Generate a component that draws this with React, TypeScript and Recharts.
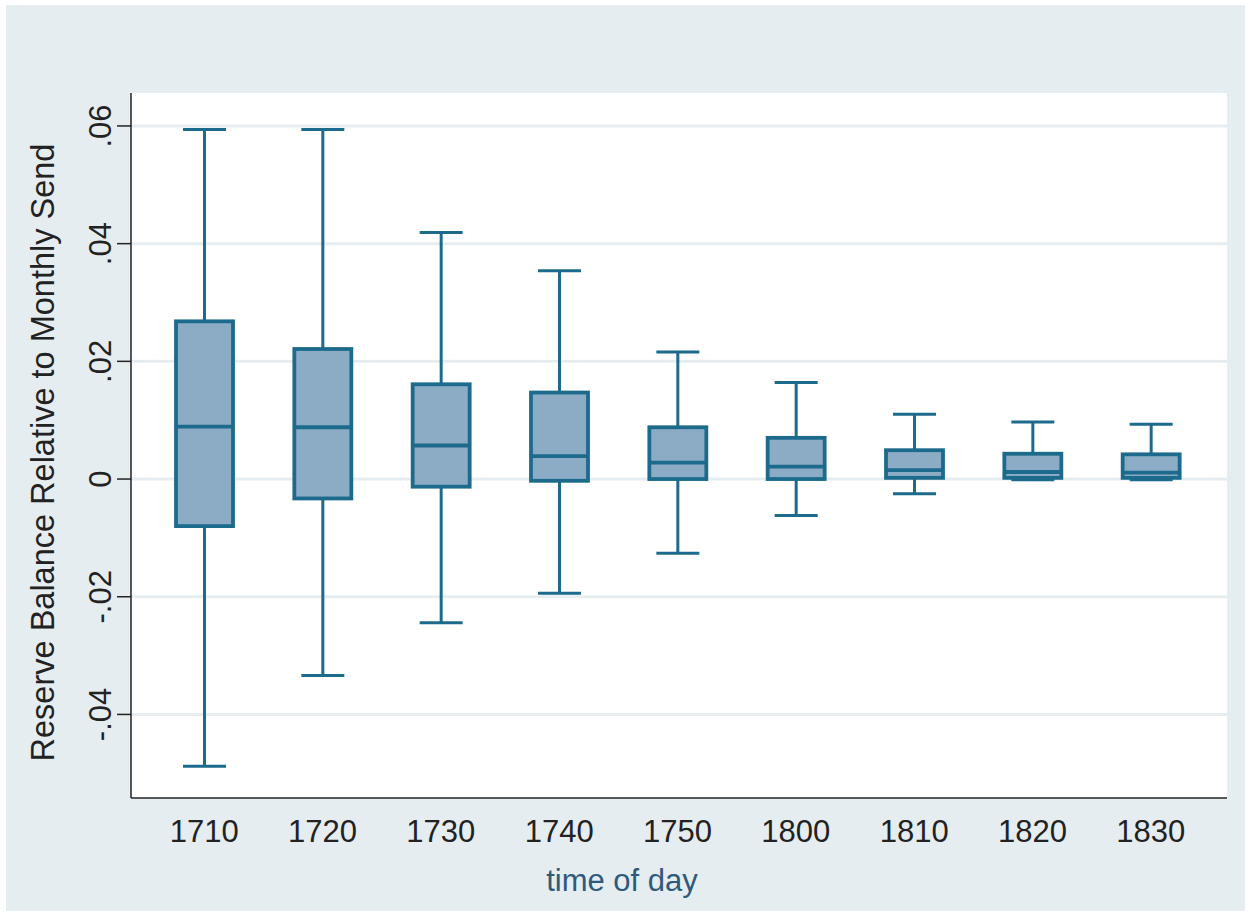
import React from 'react';
import { ComposedChart, Bar, XAxis, YAxis, CartesianGrid } from 'recharts';

// time of day buckets
const categories = ['1710', '1720', '1730', '1740', '1750', '1800', '1810', '1820', '1830'];

// box plot stats per bucket
const whiskerLow = [-0.0488, -0.0334, -0.0244, -0.0194, -0.0126, -0.0062, -0.0025, -0.0001, -0.0001];
const q1 = [-0.008, -0.0033, -0.0013, -0.0003, 0.0, 0.0, 0.0002, 0.0002, 0.0002];
const median = [0.0089, 0.0088, 0.0057, 0.0039, 0.0028, 0.0021, 0.0015, 0.0012, 0.0011];
const q3 = [0.0268, 0.0221, 0.0161, 0.0147, 0.0088, 0.007, 0.0049, 0.0043, 0.0042];
const whiskerHigh = [0.0594, 0.0594, 0.0419, 0.0354, 0.0216, 0.0164, 0.011, 0.0097, 0.0093];

const yTicks = [-0.04, -0.02, 0, 0.02, 0.04, 0.06];

const STROKE = '#1c6a8c';
const FILL = '#8cabc5';
const BG = '#e6edf1';
const FONT = '"Liberation Sans", Arial, sans-serif';

const data = categories.map((name, i) => ({
  name,
  range: [whiskerLow[i], whiskerHigh[i]],
  q1: q1[i],
  median: median[i],
  q3: q3[i],
}));

const fmt = (v: number) => {
  if (v === 0) return '0';
  const s = String(Math.round(v * 100) / 100);
  return s.replace('0.', '.');
};

// draws one box from the bar's pixel range (whisker low -> whisker high)
const BoxShape = (props: any) => {
  const { x, y, width, height, payload } = props;
  const [lo, hi] = payload.range;
  const toY = (v: number) => y + (height * (hi - v)) / (hi - lo);
  const cx = x + width / 2;
  const capW = 43;
  const yHi = toY(hi);
  const yLo = toY(lo);
  const yQ3 = toY(payload.q3);
  const yQ1 = toY(payload.q1);
  const yMed = toY(payload.median);
  return (
    <g>
      <line x1={cx} x2={cx} y1={yHi} y2={yQ3} stroke={STROKE} strokeWidth={3} />
      <line x1={cx} x2={cx} y1={yQ1} y2={yLo} stroke={STROKE} strokeWidth={3} />
      <line x1={cx - capW / 2} x2={cx + capW / 2} y1={yHi} y2={yHi} stroke={STROKE} strokeWidth={3} />
      <line x1={cx - capW / 2} x2={cx + capW / 2} y1={yLo} y2={yLo} stroke={STROKE} strokeWidth={3} />
      <rect
        x={x + 2}
        y={yQ3}
        width={width - 4}
        height={Math.max(yQ1 - yQ3, 0.5)}
        fill={FILL}
        stroke={STROKE}
        strokeWidth={3.8}
      />
      <line x1={x + 2} x2={x + width - 2} y1={yMed} y2={yMed} stroke={STROKE} strokeWidth={3.8} />
    </g>
  );
};

const YTick = (props: any) => {
  const { x, y, payload } = props;
  return (
    <text
      x={x - 4}
      y={y}
      transform={`rotate(-90, ${x - 4}, ${y})`}
      textAnchor="middle"
      fontSize={31}
      fontFamily={FONT}
      fill="#222"
    >
      {fmt(payload.value)}
    </text>
  );
};

const XTick = (props: any) => {
  const { x, y, payload } = props;
  return (
    <text x={x} y={y + 44} textAnchor="middle" fontSize={31} fontFamily={FONT} fill="#222">
      {payload.value}
    </text>
  );
};

export default function App() {
  return (
    <div style={{ position: 'absolute', left: 0, top: 0, width: 1245, height: 913, background: '#fff' }}>
      <div style={{ position: 'absolute', left: 6, top: 5, right: 0, bottom: 2, background: BG }} />
      <div style={{ position: 'absolute', left: 0, top: 0 }}>
        <ComposedChart
          width={1245}
          height={913}
          data={data}
          margin={{ top: 93, right: 18, bottom: 0, left: 0 }}
        >
          <CartesianGrid
            vertical={false}
            stroke={BG}
            strokeWidth={3}
            fill="#ffffff"
            fillOpacity={1}
            horizontalValues={yTicks}
          />
          <XAxis
            dataKey="name"
            type="category"
            height={115}
            padding={{ left: 14, right: 17 }}
            tickLine={false}
            tickSize={0}
            tickMargin={0}
            axisLine={{ stroke: '#222', strokeWidth: 1.5 }}
            tick={<XTick />}
            interval={0}
            label={{
              content: (p: any) => {
                const vb = p.viewBox || { x: 131, width: 1096, y: 798 };
                return (
                  <text
                    x={622}
                    y={vb.y + 93}
                    textAnchor="middle"
                    fontSize={31}
                    fontFamily={FONT}
                    fill="#2e5a7c"
                  >
                    time of day
                  </text>
                );
              },
            }}
          />
          <YAxis
            type="number"
            width={131}
            domain={[-0.0542, 0.0656]}
            ticks={yTicks}
            allowDataOverflow
            tickSize={14}
            tickMargin={2}
            tickLine={{ stroke: '#222', strokeWidth: 1.5 }}
            axisLine={{ stroke: '#222', strokeWidth: 1.5 }}
            tick={<YTick />}
            label={{
              content: (p: any) => {
                const vb = p.viewBox || { y: 93, height: 705 };
                const cy = vb.y + vb.height / 2 + 7;
                return (
                  <text
                    x={54}
                    y={cy}
                    transform={`rotate(-90, 54, ${cy})`}
                    textAnchor="middle"
                    fontSize={32.5}
                    fontFamily={FONT}
                    fill="#222"
                  >
                    Reserve Balance Relative to Monthly Send
                  </text>
                );
              },
            }}
          />
          <Bar dataKey="range" barSize={61} shape={<BoxShape />} isAnimationActive={false} />
        </ComposedChart>
      </div>
    </div>
  );
}
